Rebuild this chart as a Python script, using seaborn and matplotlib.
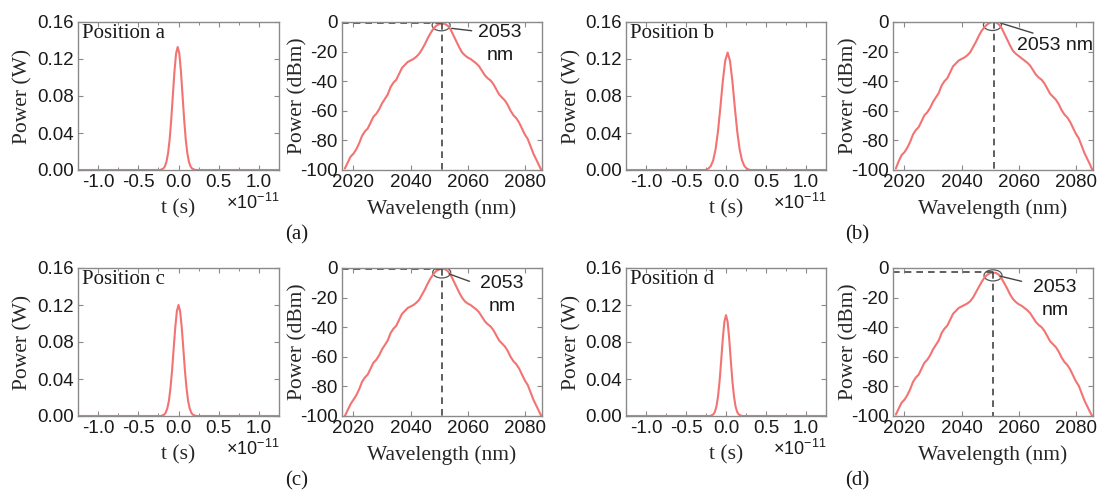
import matplotlib
matplotlib.use("Agg")
import matplotlib.pyplot as plt
from matplotlib.patches import Ellipse
import seaborn as sns
import numpy as np

# ---- data ----
# time-domain pulses (t in units of 1e-11 s, power in W)
t_a = [-1.3, -0.23, -0.19, -0.17, -0.15, -0.13, -0.11, -0.09, -0.07, -0.05, -0.03, -0.01,
       0.01, 0.03, 0.05, 0.07, 0.09, 0.11, 0.13, 0.15, 0.17, 0.21, 1.3]
p_a = [0, 0, 0.0015, 0.0038, 0.0088, 0.018, 0.033, 0.055, 0.081, 0.107, 0.126, 0.133,
       0.126, 0.107, 0.081, 0.055, 0.033, 0.018, 0.0088, 0.0038, 0.0015, 0, 0]

t_b = [-1.3, -0.26, -0.22, -0.19, -0.16, -0.13, -0.10, -0.07, -0.04, -0.01, 0.02,
       0.05, 0.08, 0.11, 0.14, 0.17, 0.20, 0.23, 0.26, 0.30, 1.3]
p_b = [0, 0, 0.0015, 0.0043, 0.0105, 0.0225, 0.042, 0.068, 0.096, 0.118, 0.127,
       0.118, 0.096, 0.068, 0.042, 0.0225, 0.0105, 0.0043, 0.0015, 0, 0]

t_c = [-1.3, -0.22, -0.18, -0.16, -0.14, -0.12, -0.10, -0.08, -0.06, -0.04, -0.02, 0.0,
       0.02, 0.04, 0.06, 0.08, 0.10, 0.12, 0.14, 0.16, 0.18, 0.22, 1.3]
p_c = [0, 0, 0.0013, 0.0034, 0.008, 0.016, 0.030, 0.049, 0.073, 0.096, 0.1135, 0.120,
       0.1135, 0.096, 0.073, 0.049, 0.030, 0.016, 0.008, 0.0034, 0.0013, 0, 0]

t_d = [-1.3, -0.20, -0.16, -0.14, -0.12, -0.10, -0.08, -0.06, -0.04, -0.02, 0.0,
       0.02, 0.04, 0.06, 0.08, 0.10, 0.12, 0.14, 0.16, 0.20, 1.3]
p_d = [0, 0, 0.0016, 0.0043, 0.0101, 0.0209, 0.0378, 0.060, 0.0837, 0.102, 0.109,
       0.102, 0.0837, 0.060, 0.0378, 0.0209, 0.0101, 0.0043, 0.0016, 0, 0]

# spectra (wavelength in nm, power in dBm), 1 nm grid 2017..2086
wl = list(range(2017, 2087))
spec_a = [-99, -95, -91, -89, -86, -82, -77, -74, -72, -68,
          -64, -62, -59, -55, -52, -49, -44, -41, -39, -35,
          -31, -29, -27, -26, -25, -23.5, -21.5, -18.5, -15, -11,
          -7.5, -4.5, -2.5, -1.5, -1, -1.3, -2.5, -5, -9, -13,
          -17, -20.5, -22.5, -24, -25, -26.5, -28, -30, -33, -36,
          -38, -39.5, -42, -45.5, -49, -51, -53, -56, -60, -63,
          -65, -68, -72, -76, -79, -84, -89, -93, -97, -101]
spec_b = [-99, -94, -90, -88, -85, -81, -76, -73, -71, -67,
          -63, -61, -58, -54, -51, -48, -43, -40, -38, -34,
          -30, -28, -26, -25, -24, -22.5, -20.5, -17, -13.5, -9.5,
          -6, -3.5, -1.5, -0.5, 0, -0.3, -1.5, -4, -8, -12,
          -16, -19.5, -21.5, -23, -24.5, -26, -27.5, -29.5, -32.5, -35.5,
          -37.5, -39, -41.5, -45, -48.5, -50.5, -52.5, -55.5, -59.5, -62.5,
          -64.5, -67.5, -71.5, -75.5, -78.5, -83.5, -88.5, -92.5, -96.5, -101]
spec_c = [-100, -96, -92, -89, -86, -82, -77, -74, -72, -68,
          -64, -62, -59, -55, -52, -49, -44, -41, -39, -35,
          -31, -29, -27, -26, -25, -23.5, -21.5, -18, -14.5, -10.5,
          -7, -4, -2, -1, -0.5, -0.8, -2, -4.5, -8.5, -12.5,
          -16.5, -20, -22.5, -24, -25, -26.5, -28, -30, -33, -36,
          -38, -39.5, -42, -45.5, -49, -51, -53, -56, -60, -63,
          -65, -68, -72, -76, -79, -84, -89, -93, -97, -101]
spec_d = [-99, -95, -91, -89, -86, -82, -77, -74, -72, -68,
          -64, -62, -59, -55, -52, -49, -44, -41, -39, -35,
          -31, -29, -27, -26, -25, -24, -22.5, -20, -16.5, -13,
          -9.5, -6.5, -4.5, -3.5, -3, -3.3, -4.5, -7, -10.5, -14,
          -18, -21, -23, -24.5, -25.5, -27, -28.5, -30.5, -33.5, -36.5,
          -38.5, -40, -42.5, -46, -49.5, -51.5, -53.5, -56.5, -60.5, -63.5,
          -65.5, -68.5, -72.5, -76.5, -79.5, -84.5, -89.5, -93.5, -97.5, -101]

positions = ["Position a", "Position b", "Position c", "Position d"]
panel_tags = ["(a)", "(b)", "(c)", "(d)"]
peak_wl = [2051, 2051.5, 2051, 2051]
peak_db = [-1, 0, -0.5, -3]
peak_label = ["2053\nnm", "2053 nm", "2053\nnm", "2053\nnm"]

pulses = [(t_a, p_a), (t_b, p_b), (t_c, p_c), (t_d, p_d)]
spectra = [spec_a, spec_b, spec_c, spec_d]

# annotation layout: ellipse centre, leader line, label centre (data coords)
notes = [
    dict(ell=(2050.7, -2.2), line=((2054.4, 2061.4), (-4.3, -5.9)), txt=(2071.3, -15)),
    dict(ell=(2050.8, -2.0), line=((2053.8, 2065), (-0.8, -7.5)), txt=(2072.7, -15.7)),
    dict(ell=(2050.9, -3.0), line=((2053.5, 2060.6), (-4, -9)), txt=(2072, -18)),
    dict(ell=(2051.0, -5.0), line=((2053.5, 2061), (-5.5, -9)), txt=(2072.7, -21)),
]

# ---- style ----
sns.set_style("ticks")
plt.rcParams["font.family"] = ["Liberation Sans", "DejaVu Sans"]
plt.rcParams["mathtext.fontset"] = "custom"
plt.rcParams["mathtext.rm"] = "Liberation Sans"
serif = ["Liberation Serif", "DejaVu Serif"]
red = "#f37373"
frame = "#8a8a8a"
ink = "#1a1a1a"

W, H = 1101, 490
fig = plt.figure(figsize=(W / 100, H / 100), dpi=100)


def box(l, t, r, b):
    return [l / W, 1 - b / H, (r - l) / W, (b - t) / H]


def style_axes(ax):
    for s in ax.spines.values():
        s.set_color(frame)
        s.set_linewidth(1.0)
    ax.tick_params(direction="in", top=True, right=True, length=3.5, width=0.8,
                   color=frame, labelsize=13.5, labelcolor=ink, pad=3)
    ax.tick_params(which="minor", direction="in", top=True, right=True, length=2,
                   width=0.7, color=frame)


rows = [(22, 170), (268, 416)]
cols_t = [(78, 279), (626, 826)]
cols_s = [(342, 542), (893, 1093)]

for i in range(4):
    r, c = divmod(i, 2)
    top, bot = rows[r]

    # time domain
    ax = fig.add_axes(box(cols_t[c][0], top, cols_t[c][1], bot))
    t, p = pulses[i]
    sns.lineplot(x=t, y=p, ax=ax, color=red, lw=1.5, estimator=None)
    ax.set_xlim(-1.25, 1.25)
    ax.set_ylim(0, 0.16)
    ax.set_xticks([-1.0, -0.5, 0.0, 0.5, 1.0])
    ax.set_xticks(np.arange(-1.25, 1.26, 0.25), minor=True)
    ax.set_yticks([0, 0.04, 0.08, 0.12, 0.16])
    ax.set_yticklabels(["0.00", "0.04", "0.08", "0.12", "0.16"])
    ax.set_xticklabels(["-1.0", "-0.5", "0.0", "0.5", "1.0"])
    style_axes(ax)
    ax.set_xlabel("t (s)", family=serif, fontsize=15.5)
    ax.set_ylabel("Power (W)", family=serif, fontsize=15.5)
    ax.xaxis.set_label_coords(0.5, -0.2)
    ax.yaxis.set_label_coords(-0.225, 0.5)
    ax.text(0.02, 0.985, positions[i], transform=ax.transAxes, family=serif,
            fontsize=15, va="top", ha="left", color=ink)
    ax.text(1.0, -0.22, r"$\times$10$^{-11}$", transform=ax.transAxes,
            fontsize=13, ha="right", va="center", color=ink)

    # spectrum
    ax2 = fig.add_axes(box(cols_s[c][0], top, cols_s[c][1], bot))
    sns.lineplot(x=wl, y=spectra[i], ax=ax2, color=red, lw=1.5, estimator=None)
    ax2.set_xlim(2016, 2086)
    ax2.set_ylim(-100, 0)
    ax2.set_xticks([2020, 2040, 2060, 2080])
    ax2.set_yticks([0, -20, -40, -60, -80, -100])
    ax2.set_yticklabels(["0", "-20", "-40", "-60", "-80", "-100"])
    style_axes(ax2)
    ax2.set_xlabel("Wavelength (nm)", family=serif, fontsize=15.5)
    ax2.set_ylabel("Power (dBm)", family=serif, fontsize=15.5)
    ax2.xaxis.set_label_coords(0.5, -0.195)
    ax2.yaxis.set_label_coords(-0.175, 0.5)

    pw, pd = peak_wl[i], peak_db[i]
    ax2.plot([2016, pw], [pd, pd], ls=(0, (4, 3)), color="#444444", lw=1.2)
    ax2.plot([pw, pw], [pd, -100], ls=(0, (4, 3)), color="#444444", lw=1.2)
    nt = notes[i]
    ax2.add_patch(Ellipse(nt["ell"], 6.3, 7.5, fill=False, ec="#555555", lw=0.9))
    ax2.plot(nt["line"][0], nt["line"][1], color="#444444", lw=1.0)
    ax2.text(nt["txt"][0], nt["txt"][1], peak_label[i], fontsize=14, ha="center",
             va="center", color=ink, linespacing=1.45)

    # panel tag
    tag_x = [297, 857][c]
    fig.text(tag_x / W, 1 - (bot + 65) / H, panel_tags[i], family=serif,
             fontsize=15, ha="center", va="center", color=ink)

fig.savefig("out.png", dpi=100)
